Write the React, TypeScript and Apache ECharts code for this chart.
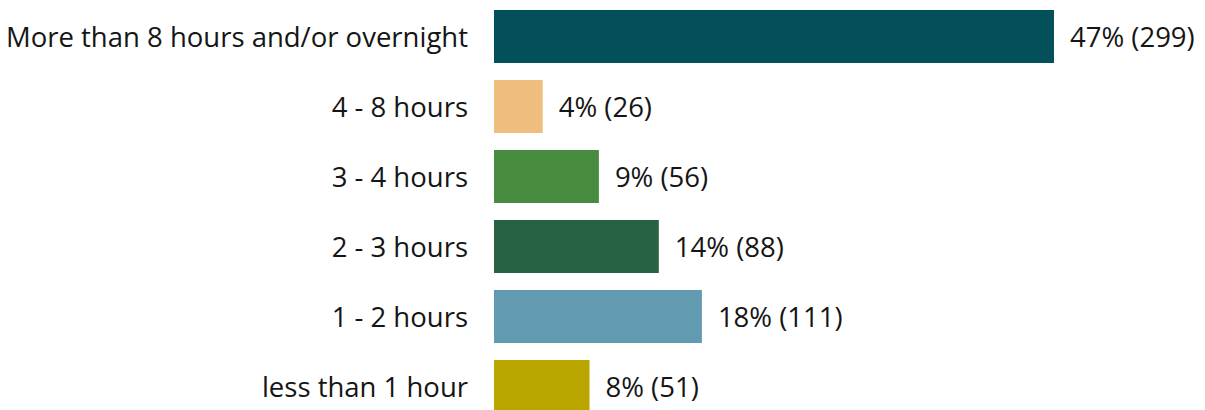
import React, { useEffect, useRef } from "react";
import * as echarts from "echarts";

const categories = [
  "More than 8 hours and/or overnight",
  "4 - 8 hours",
  "3 - 4 hours",
  "2 - 3 hours",
  "1 - 2 hours",
  "less than 1 hour",
];
const counts = [299, 26, 56, 88, 111, 51];
const percents = [47, 4, 9, 14, 18, 8];
const colors = ["#03505B", "#EFBD7D", "#468B3E", "#276343", "#629AB0", "#BBA600"];

const FONT = "Open Sans";

export default function App() {
  const ref = useRef<HTMLDivElement>(null);
  useEffect(() => {
    document.body.style.margin = "0";
    const chart = echarts.init(ref.current!, undefined, { renderer: "svg" });
    chart.setOption({
      animation: false,
      grid: { left: 494, top: 1.5, width: 655.5, height: 420 },
      xAxis: { type: "value", min: 0, max: 350, show: false },
      yAxis: {
        type: "category",
        data: categories,
        inverse: true,
        axisLine: { show: false },
        axisTick: { show: false },
        axisLabel: {
          margin: 26,
          color: "#151515",
          fontSize: 27.5,
          fontFamily: FONT,
        },
      },
      series: [
        {
          type: "bar",
          barWidth: 53,
          data: counts.map((v, i) => ({ value: v, itemStyle: { color: colors[i] } })),
          label: {
            show: true,
            position: "right",
            distance: 16,
            color: "#151515",
            fontSize: 27.5,
            fontFamily: FONT,
            formatter: (p: any) => `${percents[p.dataIndex]}% (${counts[p.dataIndex]})`,
          },
        },
      ],
    });
    return () => chart.dispose();
  }, []);
  return (
    <div style={{ width: 1205, height: 410, overflow: "hidden" }}>
      <div ref={ref} style={{ width: 1205, height: 430 }} />
    </div>
  );
}
